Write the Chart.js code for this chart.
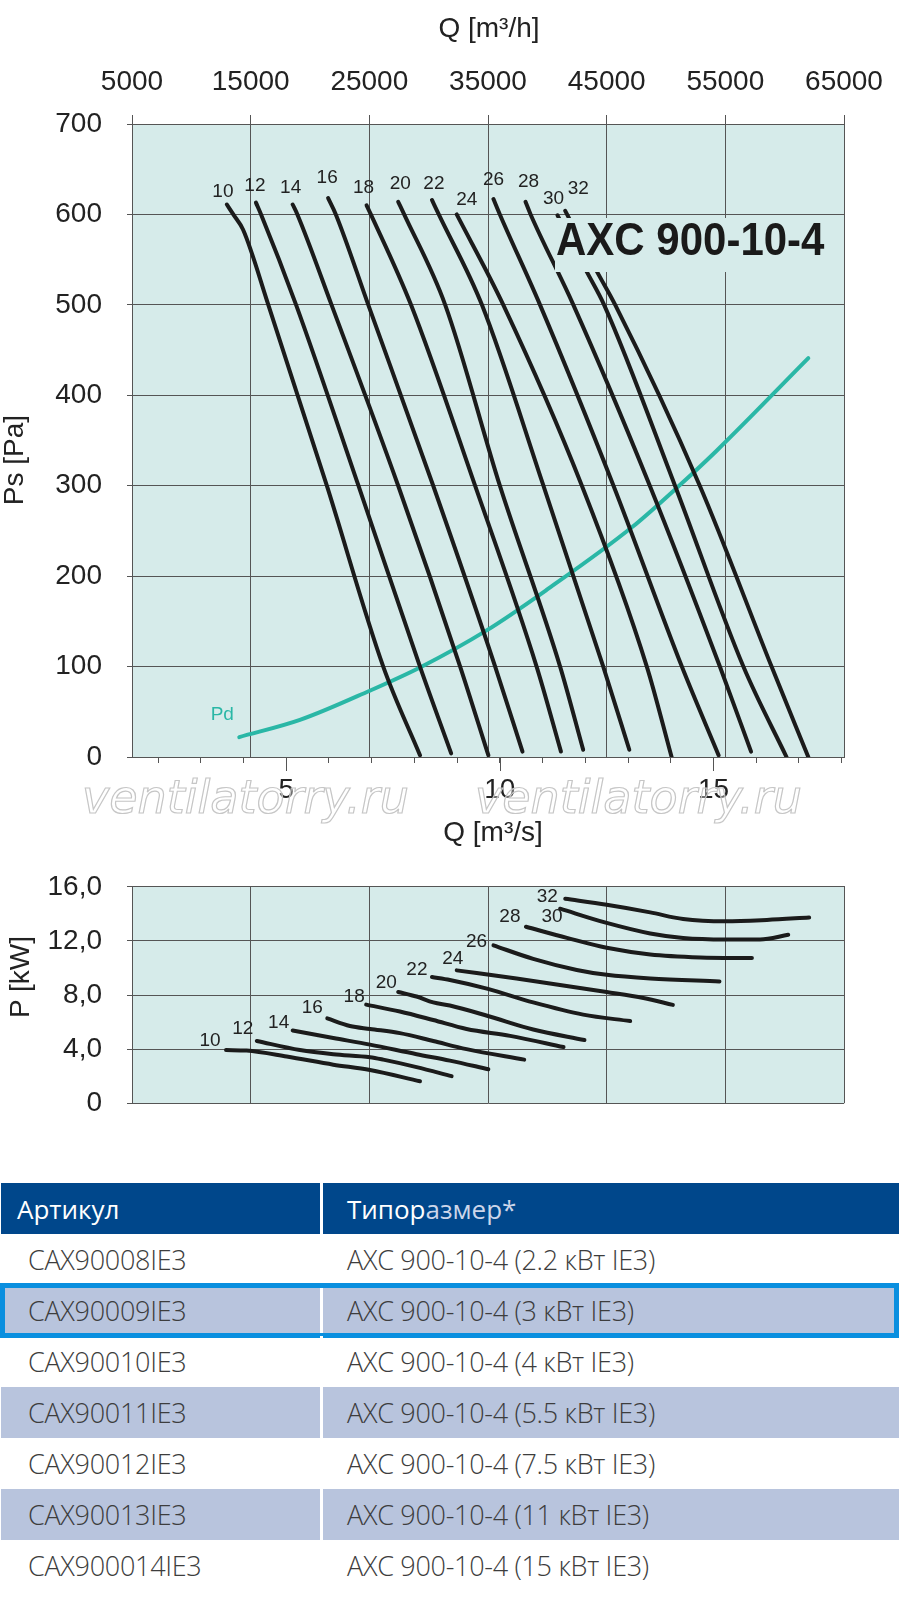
<!DOCTYPE html>
<html>
<head>
<meta charset="utf-8">
<script src="https://cdn.jsdelivr.net/npm/chart.js@4.4.1/dist/chart.umd.min.js"></script>
<style>
    body { margin: 0; background: #fff; width: 900px; height: 1603px; position: relative; overflow: hidden;
           font-family: "Liberation Sans", Arial, sans-serif; }
    canvas { position: absolute; left: 0; }
    #psChart { top: 0; }
    #pwChart { top: 845px; }
    .ttl { position: absolute; width: 200px; height: 34px; line-height: 34px; text-align: center;
           font-size: 28px; color: #222; white-space: nowrap; }
    .rot { transform: rotate(-90deg); }
    #model { position: absolute; left: 555px; top: 218px; width: 281px; height: 54px; background: #d6ebea;
             font-weight: bold; font-size: 42px; line-height: 44px; color: #1a1a1a; white-space: nowrap; }
    #model span { display: inline-block; padding-left: 1px; transform: scaleY(1.1); }
    .wm { position: absolute; top: 774px; font: oblique 46px "DejaVu Sans", sans-serif; line-height: 46px;
          color: rgba(255,255,255,0.35); -webkit-text-stroke: 1.2px #c6c6c6; white-space: nowrap; }
    #tbl { position: absolute; left: 1px; top: 1183px; width: 898px; font-family: "Open Sans", sans-serif; }
    .row { display: flex; height: 51px; align-items: center; position: relative; font-size: 27px;
           color: #3d3d3d; font-weight: 300; letter-spacing: -0.3px; }
    .row .c1 { width: 322px; height: 100%; display: flex; align-items: center; padding-left: 27px;
               box-sizing: border-box; border-right: 3px solid #fff; }
    .row .c2 { flex: 1; padding-left: 24px; }
    .row.head { background: #00478b; color: #fff; font-size: 26px; font-weight: 400; letter-spacing: 0; }
    .row.head .c1 { padding-left: 16px; }
    .row.head .dim { color: #ccd6ea; }
    .row.shade { background: #b8c4dd; }
    .row.hl::after { content: ''; position: absolute; left: -1px; right: 0; top: -2px; bottom: -2px;
                     border: 5px solid #0a8fdf; }
</style>
</head>
<body>
<canvas id="psChart" width="900" height="860"></canvas>
<canvas id="pwChart" width="900" height="300"></canvas>

<div class="ttl" style="left:389px;top:11px">Q [m³/h]</div>
<div class="ttl" style="left:393px;top:815px">Q [m³/s]</div>
<div class="ttl rot" style="left:-86px;top:443px">Ps [Pa]</div>
<div class="ttl rot" style="left:-80px;top:960px">P [kW]</div>
<div id="model"><span>AXC 900-10-4</span></div>
<div class="wm" style="left:82px">ventilatorry.ru</div>
<div class="wm" style="left:475px">ventilatorry.ru</div>
<div id="tbl"></div>

<script>
// Blade angles of the curves
const bladeAngles = [10, 12, 14, 16, 18, 20, 22, 24, 26, 28, 30, 32];

// Static pressure curves: flow [m³/s] and Ps [Pa], one row per blade angle
const psFlow = [
    [3.61, 3.76, 3.99, 4.58, 5.95, 7.27, 8.13],
    [4.29, 4.41, 5.23, 6.69, 8.13, 8.86],
    [5.15, 5.26, 6.06, 7.62, 9.07, 9.73],
    [5.98, 6.16, 6.92, 8.44, 9.89, 10.53],
    [6.88, 6.98, 7.92, 9.42, 10.86, 11.43],
    [7.62, 7.76, 8.72, 10.0, 11.41, 11.95],
    [8.41, 8.57, 9.58, 11.02, 12.42, 13.03],
    [8.99, 10.08, 11.92, 13.44, 14.02],
    [9.85, 10.0, 10.94, 12.66, 14.26, 15.12],
    [10.60, 10.72, 11.72, 13.51, 15.15, 15.88],
    [11.35, 12.03, 12.44, 14.10, 15.70, 16.71],
    [11.53, 12.27, 12.70, 14.68, 16.36, 17.22]
];
const psPressure = [
    [611, 600, 583, 500, 300, 100, 2],
    [613, 600, 500, 300, 100, 4],
    [611, 600, 500, 300, 100, 2],
    [618, 600, 500, 300, 100, 6],
    [610, 600, 500, 300, 100, 6],
    [614, 600, 500, 300, 100, 8],
    [616, 600, 500, 300, 100, 8],
    [600, 500, 300, 100, 0],
    [617, 600, 500, 300, 100, 2],
    [614, 600, 500, 300, 100, 6],
    [599, 537, 500, 300, 100, 0],
    [604, 537, 500, 300, 100, 0]
];

// Dynamic pressure curve
const pdFlow = [3.90, 5.32, 6.94, 8.13, 9.69, 11.10, 13.09, 14.22, 15.08, 17.22];
const pdPressure = [22, 41, 73, 99, 140, 185, 254, 301, 339, 441];

// Shaft power curves: flow [m³/s] and P [kW]
const pwFlow = [
    [3.59, 4.07, 5.01, 6.10, 6.96, 8.13],
    [4.31, 5.32, 6.10, 6.96, 7.27, 8.05, 8.87],
    [5.15, 6.10, 6.96, 8.05, 8.83, 9.73],
    [5.96, 6.49, 6.96, 7.66, 8.44, 9.22, 10.57],
    [6.87, 7.66, 8.44, 9.22, 10.24, 11.49],
    [7.62, 8.05, 8.44, 8.83, 9.72, 10.78, 11.98],
    [8.41, 8.83, 9.72, 10.78, 11.95, 13.05],
    [8.99, 10.39, 12.50, 13.36, 14.05],
    [9.85, 10.78, 11.80, 12.50, 13.52, 15.14],
    [10.61, 11.57, 12.50, 13.52, 14.69, 15.90],
    [11.41, 12.50, 13.52, 14.29, 15.28, 16.09, 16.75],
    [11.53, 12.50, 13.52, 14.29, 15.28, 16.25, 17.24]
];
const pwPower = [
    [3.93, 3.89, 3.45, 2.85, 2.45, 1.62],
    [4.60, 3.93, 3.62, 3.40, 3.22, 2.67, 2.00],
    [5.38, 4.82, 4.33, 3.62, 3.15, 2.51],
    [6.27, 5.71, 5.49, 5.18, 4.60, 4.00, 3.22],
    [7.29, 6.78, 6.15, 5.49, 4.98, 4.15],
    [8.22, 7.89, 7.45, 7.22, 6.45, 5.45, 4.67],
    [9.33, 9.11, 8.45, 7.45, 6.55, 6.07],
    [9.82, 9.22, 8.22, 7.78, 7.27],
    [11.67, 10.67, 9.85, 9.49, 9.22, 9.00],
    [13.05, 12.22, 11.49, 11.00, 10.78, 10.73],
    [14.38, 13.33, 12.55, 12.22, 12.11, 12.11, 12.45],
    [15.11, 14.67, 14.11, 13.62, 13.45, 13.55, 13.73]
];

// Axes
const qhMin = 5000, qhMax = 65000, qhStep = 10000;                              // m³/h
const qsTicks = [2, 3, 4, 5, 6, 7, 8, 9, 10, 11, 12, 13, 14, 15, 16, 17, 18];   // m³/s tick marks
const qsLabels = [5, 10, 15];                                                   // m³/s labelled ticks
const psMax = 700, psStep = 100;
const pwMax = 16, pwStep = 2, pwLabelStep = 4;

// Table
const articleCodes = ['CAX90008IE3', 'CAX90009IE3', 'CAX90010IE3', 'CAX90011IE3', 'CAX90012IE3', 'CAX90013IE3', 'CAX900014IE3'];
const sizeNames = ['AXC 900-10-4 (2.2 кВт IE3)', 'AXC 900-10-4 (3 кВт IE3)', 'AXC 900-10-4 (4 кВт IE3)',
    'AXC 900-10-4 (5.5 кВт IE3)', 'AXC 900-10-4 (7.5 кВт IE3)', 'AXC 900-10-4 (11 кВт IE3)', 'AXC 900-10-4 (15 кВт IE3)'];

// Label offsets (px) from the first point of each curve
const psTagOffset = [[-4, -13], [-1, -17], [-2, -17], [-1, -20], [-3, -18], [2, -18], [2, -16], [10, -15], [0, -19], [3, -20], [-4, -17], [13, -22]];
const pwTagOffset = [[-16, -9], [-14, -12], [-14, -8], [-15, -11], [-12, -8], [-12, -9], [-15, -7], [-4, -12], [-17, -4], [-16, -10], [-8, 8], [-18, -2]];

const PLOT_BG = '#d6ebea';
const GRID = '#555';
const CURVE = '#1b1b1b';
const PD_COLOR = '#2ab7a6';
const FONT = '"Liberation Sans", Arial, sans-serif';

Chart.defaults.font.family = FONT;

const M3H = 3600;

function points(xs, ys) {
    return xs.map((x, i) => ({ x: x, y: ys[i] }));
}

function curveSet(xs, ys, tag, off, color, width) {
    return {
        data: points(xs, ys),
        xAxisID: 'q',
        yAxisID: 'y',
        borderColor: color,
        borderWidth: width,
        borderCapStyle: 'round',
        borderJoinStyle: 'round',
        cubicInterpolationMode: 'monotone',
        pointRadius: 0,
        fill: false,
        tag: tag,
        tagDx: off[0],
        tagDy: off[1],
        tagColor: color === PD_COLOR ? PD_COLOR : '#222'
    };
}

// Plot background
const plotBg = {
    id: 'plotBg',
    beforeDraw(chart) {
        const { ctx, chartArea: a } = chart;
        ctx.save();
        ctx.fillStyle = PLOT_BG;
        ctx.fillRect(a.left, a.top, a.right - a.left, a.bottom - a.top);
        ctx.restore();
    }
};

// Blade angle numbers next to the start of each curve
const curveTags = {
    id: 'curveTags',
    afterDatasetsDraw(chart) {
        const ctx = chart.ctx;
        ctx.save();
        ctx.font = '19px ' + FONT;
        ctx.textAlign = 'center';
        ctx.textBaseline = 'middle';
        chart.data.datasets.forEach((ds, i) => {
            if (!ds.tag) return;
            const p = chart.getDatasetMeta(i).data[0];
            ctx.fillStyle = ds.tagColor;
            ctx.fillText(ds.tag, p.x + ds.tagDx, p.y + ds.tagDy);
        });
        ctx.restore();
    }
};

// Longer tick marks at the labelled m³/s values
const majorTicks = {
    id: 'majorTicks',
    afterDraw(chart) {
        const s = chart.scales.q;
        if (!s || !s.options.display) return;
        const ctx = chart.ctx;
        ctx.save();
        ctx.strokeStyle = GRID;
        ctx.lineWidth = 1;
        qsLabels.forEach(v => {
            const x = Math.round(s.getPixelForValue(v)) + 0.5;
            ctx.beginPath();
            ctx.moveTo(x, s.top);
            ctx.lineTo(x, s.top + 14);
            ctx.stroke();
        });
        ctx.restore();
    }
};

// Static pressure chart
const psSets = bladeAngles.map((a, i) => curveSet(psFlow[i], psPressure[i], String(a), psTagOffset[i], CURVE, 4));
psSets.push(curveSet(pdFlow, pdPressure, 'Pd', [-17, -22], PD_COLOR, 4));

new Chart(document.getElementById('psChart'), {
    type: 'line',
    data: { datasets: psSets },
    options: {
        responsive: false,
        animation: false,
        layout: { padding: { left: 0, right: 56, top: 0, bottom: 0 } },
        plugins: { legend: { display: false }, tooltip: { enabled: false } },
        scales: {
            y: {
                position: 'left',
                min: 0, max: psMax,
                ticks: { stepSize: psStep, padding: 25, color: '#222', font: { size: 28 } },
                grid: { color: GRID, tickLength: 5 },
                border: { color: GRID },
                afterFit: s => { s.width = 132; }
            },
            qh: {
                type: 'linear', axis: 'x', position: 'top',
                min: qhMin, max: qhMax,
                ticks: { stepSize: qhStep, padding: 16, color: '#222', font: { size: 28 }, maxRotation: 0,
                         callback: v => String(v) },
                grid: { color: GRID, tickLength: 9 },
                border: { color: GRID },
                afterFit: s => { s.height = 124; }
            },
            q: {
                type: 'linear', axis: 'x', position: 'bottom',
                min: qhMin / M3H, max: qhMax / M3H,
                afterBuildTicks: s => { s.ticks = qsTicks.map(v => ({ value: v })); },
                ticks: {
                    autoSkip: false, maxRotation: 0, minRotation: 0,
                    padding: 10, color: '#222', font: { size: 28 },
                    callback: v => qsLabels.includes(Math.round(v)) ? String(Math.round(v)) : ''
                },
                grid: { drawOnChartArea: false, tickLength: 6, tickColor: GRID, color: GRID },
                border: { color: GRID },
                afterFit: s => { s.height = 103; }
            }
        }
    },
    plugins: [plotBg, curveTags, majorTicks]
});

// Shaft power chart
const pwSets = bladeAngles.map((a, i) => curveSet(pwFlow[i], pwPower[i], String(a), pwTagOffset[i], CURVE, 4));

new Chart(document.getElementById('pwChart'), {
    type: 'line',
    data: { datasets: pwSets },
    options: {
        responsive: false,
        animation: false,
        layout: { padding: { left: 0, right: 56, top: 0, bottom: 30 } },
        plugins: { legend: { display: false }, tooltip: { enabled: false } },
        scales: {
            y: {
                position: 'left',
                min: 0, max: pwMax,
                ticks: {
                    stepSize: pwStep, padding: 25, color: '#222', font: { size: 28 },
                    callback: v => v % pwLabelStep ? '' : (v === 0 ? '0' : v.toFixed(1).replace('.', ','))
                },
                grid: {
                    color: c => (c.tick && c.tick.value % pwLabelStep === 0) ? GRID : 'rgba(0,0,0,0)',
                    tickColor: GRID, tickLength: 5
                },
                border: { color: GRID },
                afterFit: s => { s.width = 132; }
            },
            qh: {
                type: 'linear', axis: 'x', position: 'top',
                min: qhMin, max: qhMax,
                ticks: { stepSize: qhStep, display: false },
                grid: { color: GRID, drawTicks: false },
                border: { color: GRID },
                afterFit: s => { s.height = 30; }
            },
            q: {
                type: 'linear', axis: 'x', position: 'bottom', display: false,
                min: qhMin / M3H, max: qhMax / M3H
            }
        }
    },
    plugins: [plotBg, curveTags]
});

// Table
const tbl = document.getElementById('tbl');
let html = '<div class="row head"><div class="c1">Артикул</div><div class="c2">Типор<span class="dim">азмер*</span></div></div>';
articleCodes.forEach((code, i) => {
    const cls = ['row'];
    if (i % 2 === 1) cls.push('shade');
    if (i === 1) cls.push('hl');
    html += `<div class="${cls.join(' ')}"><div class="c1">${code}</div><div class="c2">${sizeNames[i]}</div></div>`;
});
tbl.innerHTML = html;
</script>
</body>
</html>
